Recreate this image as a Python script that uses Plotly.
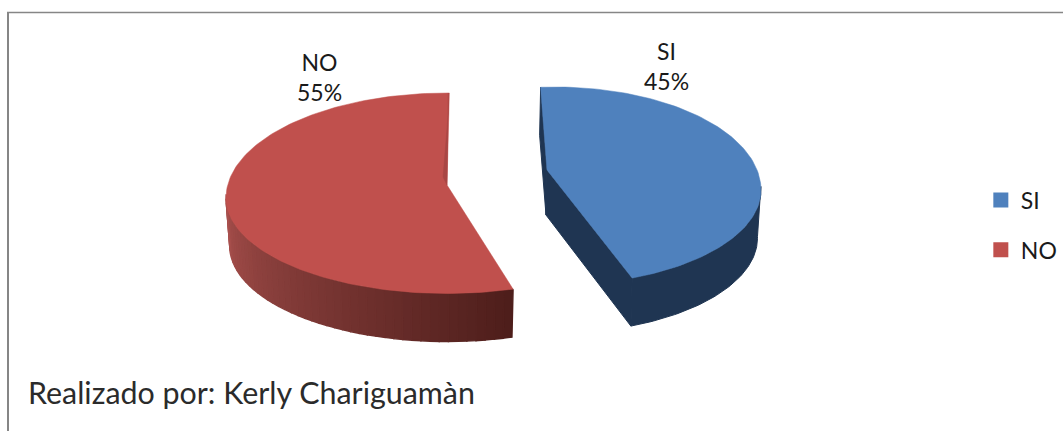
import numpy as np
import plotly.graph_objects as go

categories = ["SI", "NO"]
values = [45, 55]
caption = "Realizado por: Kerly Chariguamàn"

FONT = "Lato, Carlito, Calibri, sans-serif"
TEXT = "#1a1a1a"
TOP = {"SI": "#4f81bd", "NO": "#c0504d"}
DEPTH = 48
TAPER = 0.983
# per-slice projected ellipse of the exploded, tilted pie
GEOM = {
    "SI": dict(cx=555, cy=190, a=206, bu=103, bl=95, rot=-4, apex=(547, 170)),
    "NO": dict(cx=447, cy=198, a=221, bu=105, bl=95.5, rot=0.6, apex=(447, 185)),
}

def ell(g, deg, lower=False):
    t = np.radians(np.asarray(deg, dtype=float))
    k = TAPER if lower else 1.0
    c = np.cos(t)
    x = g["cx"] + g["a"] * k * np.sin(t)
    y = g["cy"] + (DEPTH if lower else 0) - c * np.where(c > 0, g["bu"], g["bl"])
    return x, y

def poly(x, y, color, width=1.0):
    return go.Scatter(
        x=list(x) + [x[0]], y=list(y) + [y[0]], mode="lines", fill="toself",
        fillcolor=color, line=dict(color=color, width=width),
        hoverinfo="skip", showlegend=False,
    )

def mix(c1, c2, f):
    return "rgb(%d,%d,%d)" % tuple(round(a + (b - a) * f) for a, b in zip(c1, c2))

fig = go.Figure()
total = sum(values)
sweep = [v / total * 360 for v in values]

# ---- SI slice ----
g = GEOM["SI"]
t0 = g["rot"]
t1 = g["rot"] + sweep[0]
ax, ay = g["apex"]
navy = "#1f3552"
sx, sy = ell(g, t0)
ex, ey = ell(g, t1)
lx, ly = ell(g, t1, lower=True)
fig.add_trace(poly([float(sx), float(sx) - 1, ax - 1, ax], [float(sy), float(sy) + DEPTH, ay + 45, ay], navy))
fig.add_trace(poly([ax, float(ex), float(lx), ax - 1], [ay, float(ey), float(ly), ay + 45], navy))
ts = np.linspace(t1, 88, 60)
xu, yu = ell(g, ts)
xl, yl = ell(g, ts, lower=True)
fig.add_trace(poly(np.r_[xu, xl[::-1]], np.r_[yu, yl[::-1]], navy))
ts = np.linspace(t0, t1, 120)
xu, yu = ell(g, ts)
fig.add_trace(poly(np.r_[xu, ax], np.r_[yu, ay], TOP["SI"], 0.5))

# ---- NO slice ----
g = GEOM["NO"]
t0 = g["rot"] + sweep[0]
t1 = g["rot"] + 360
ax, ay = g["apex"]
edges = np.linspace(t0, 272, 46)
light, dark = (168, 80, 77), (78, 30, 27)
for i in range(len(edges) - 1):
    seg = np.linspace(edges[i], edges[i + 1], 5)
    xu, yu = ell(g, seg)
    xl, yl = ell(g, seg, lower=True)
    fig.add_trace(poly(np.r_[xu, xl[::-1]], np.r_[yu, yl[::-1]],
                       mix(dark, light, i / (len(edges) - 2)), 1.4))
ts = np.linspace(t0, t1, 160)
xu, yu = ell(g, ts)
fig.add_trace(poly(np.r_[xu, ax], np.r_[yu, ay], TOP["NO"], 0.5))
# inner wall sliver beside the apex
ux, uy = ell(g, t1)
fig.add_trace(poly([float(ux) - 1, float(ux) - 1, ax - 4, ax], [float(uy), float(uy) + 20, ay - 8, ay], "#a84644", 0.5))

# ---- legend (real legend, fed from the categories) ----
for c in categories:
    fig.add_trace(go.Scatter(
        x=[None], y=[None], mode="markers", name=c, legendgroup=c,
        marker=dict(symbol="square", size=15, color=TOP[c]),
    ))

# ---- data labels ----
LABEL_POS = {"SI": (666.5, 65.5), "NO": (319.5, 77)}
for c, v in zip(categories, values):
    px, py = LABEL_POS[c]
    fig.add_annotation(x=px, y=py, text=f"{c}<br>{v}%", showarrow=False,
                       font=dict(family=FONT, size=23, color=TEXT))

fig.add_annotation(x=26, y=392, text=caption, showarrow=False, xanchor="left",
                   font=dict(family=FONT, size=30.4, color="#2b2b2b"))

fig.update_layout(
    width=1063, height=431, margin=dict(l=0, r=0, t=0, b=0),
    paper_bgcolor="white", plot_bgcolor="white",
    xaxis=dict(range=[0, 1063], visible=False, fixedrange=True),
    yaxis=dict(range=[431, 0], visible=False, fixedrange=True),
    legend=dict(x=0.9227, y=0.478, yanchor="middle", xanchor="left", tracegroupgap=17,
                font=dict(family=FONT, size=23, color=TEXT), bgcolor="rgba(0,0,0,0)"),
    shapes=[
        dict(type="line", x0=7, x1=1063, y0=12.5, y1=12.5, line=dict(color="#868686", width=1.6)),
        dict(type="line", x0=8, x1=8, y0=12, y1=431, line=dict(color="#868686", width=2)),
    ],
)
fig.write_html("out.html", config={"displayModeBar": False},
               post_script="document.body.style.margin='0';document.body.style.overflow='hidden';")
